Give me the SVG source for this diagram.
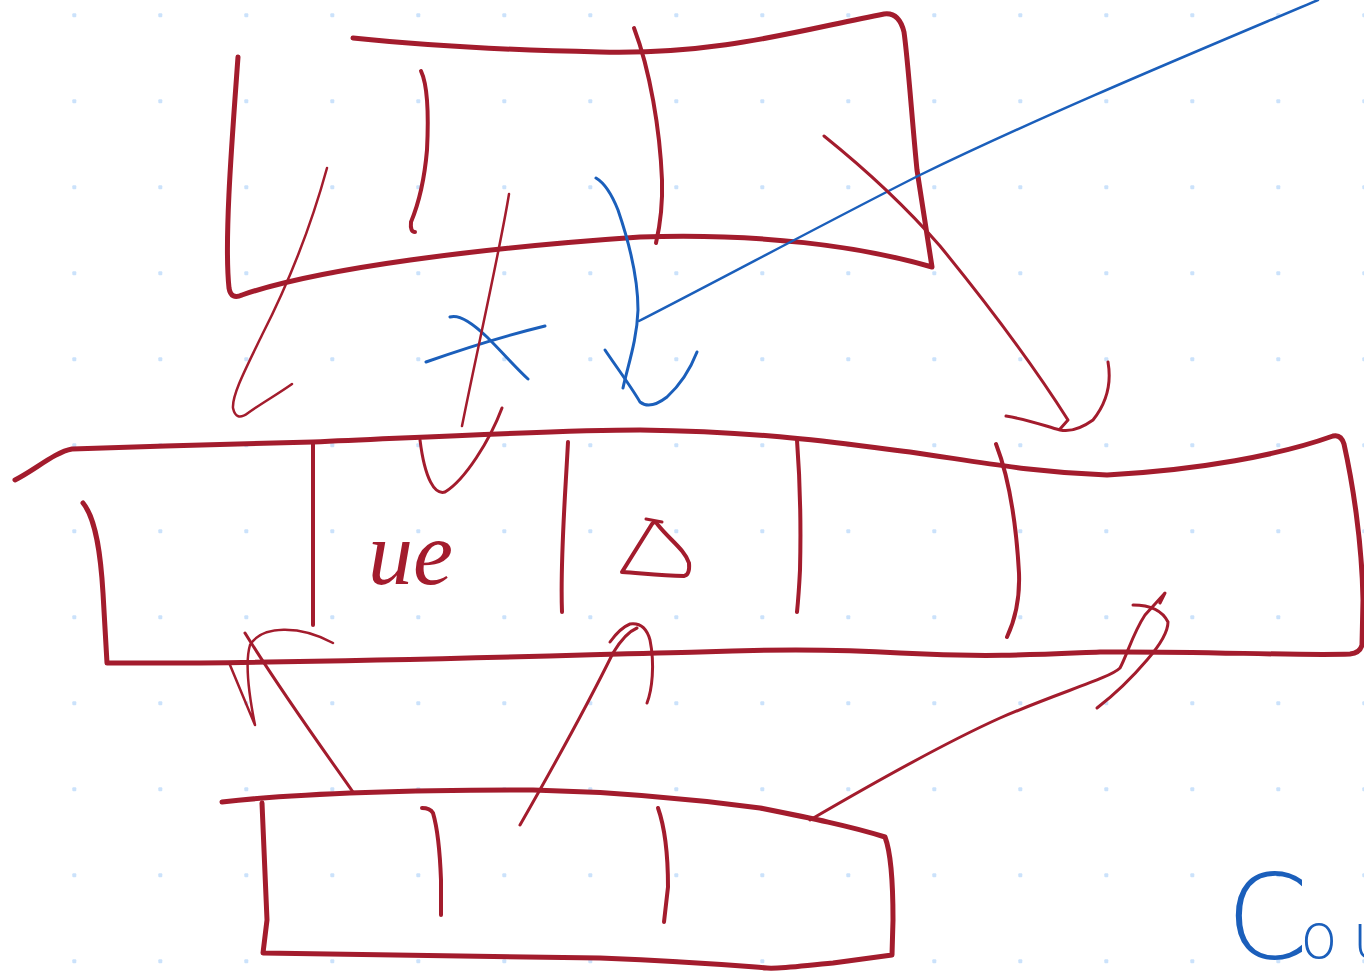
<svg xmlns="http://www.w3.org/2000/svg" width="1364" height="973" viewBox="0 0 1364 973">
<defs>
<pattern id="dots" x="31" y="-28" width="86" height="86" patternUnits="userSpaceOnUse">
<rect x="41.3" y="41.3" width="4" height="4" rx="1" fill="#cbe2fb"/>
</pattern>
<style>
.r{fill:none;stroke:#a31c2d;stroke-linecap:round;stroke-linejoin:round}
.b{fill:none;stroke:#1b5fbb;stroke-linecap:round;stroke-linejoin:round}
.w5{stroke-width:5}
.w4{stroke-width:4}
.w3{stroke-width:3}
.w25{stroke-width:2.5}
</style>
</defs>
<rect width="1364" height="973" fill="#ffffff"/>
<rect width="1364" height="973" fill="url(#dots)"/>

<g id="top-box">
<path class="r w5" d="M238,57 C232,140 224,240 229,288 Q231,300 242,295 C320,268 480,248 640,237 C760,233 860,246 932,267 L917,170 C912,120 908,60 904,32 Q899,12 884,14 C800,30 720,55 600,52 C500,50 420,45 353,38"/>
<path class="r w4" d="M421,71 Q430,90 427,150 C424,185 416,210 411,222 Q410,232 415,232"/>
<path class="r w4" d="M634,28 C650,70 660,130 662,180 C663,210 659,230 656,243"/>
</g>

<g id="middle-band">
<path class="r w5" d="M15,480 C35,470 55,452 72,449 C150,446 250,444 313,442 C450,436 560,430 640,430 C780,432 850,445 910,452 C980,462 1030,472 1107,475 C1200,470 1280,455 1333,436 Q1341,434 1344,444 C1352,480 1362,540 1363,600 L1362,645 Q1360,653 1350,654 C1300,656 1200,651 1100,652 C1050,654 990,658 900,653 C850,650 780,649 700,652 C600,654 450,660 200,663 L107,663 L103,593 C101,560 97,520 83,503"/>
<path class="r w4" d="M313,443 L313,625"/>
<path class="r w4" d="M568,442 C565,500 560,560 562,612"/>
<path class="r w4" d="M797,440 C800,480 801,530 800,570 C799,590 798,602 797,612"/>
<path class="r w4" d="M996,444 C1008,475 1016,520 1019,573 C1020,600 1015,620 1007,637"/>
<path class="r w4" d="M622,572 L652,524 Q655,520 658,525 C670,540 685,550 689,563 Q690,575 684,576 C660,576 640,573 622,572 Z"/>
<path class="r w3" d="M646,519 L662,522"/>
<text x="368" y="584" font-family="Liberation Serif, serif" font-style="italic" font-size="90" fill="#a31c2d">ue</text>
</g>

<g id="bottom-box">
<path class="r w5" d="M222,802 C300,793 420,790 533,790 C620,792 700,800 760,808 C810,818 850,826 885,837 C890,850 893,880 893,920 L892,955 L833,963 C800,966 780,969 767,968 C740,966 700,962 600,958 C500,956 400,956 263,953 L267,920 C265,870 263,830 262,803"/>
<path class="r w4" d="M422,808 Q430,808 433,813 C438,830 440,853 441,880 L441,915"/>
<path class="r w4" d="M658,808 C664,825 668,853 668,887 L664,922"/>
</g>

<g id="annotations">
<path class="b w3" d="M426,362 C460,350 500,337 545,326"/>
<path class="b w3" d="M450,317 Q462,313 487,337 C505,355 515,367 528,379"/>
<text x="1226" y="958" font-family="DejaVu Sans, sans-serif" font-weight="200" fill="#1b5fbb"><tspan font-size="118">C</tspan><tspan x="1300" font-size="62">o</tspan><tspan x="1352" font-size="62">u</tspan></text>
</g>

<g id="connectors">
<path class="b w3" d="M596,178 Q608,185 618,210 C630,245 638,280 638,310 C637,340 628,365 623,388"/>
<path class="b w3" d="M605,350 C615,365 630,385 640,402 Q650,410 667,397 C680,385 690,370 697,352"/>
<path class="b w25" d="M639,321 C700,290 850,210 920,175 C1050,112 1200,50 1318,0"/>
<path class="r w25" d="M509,194 C500,250 475,360 462,426"/>
<path class="r w3" d="M420,440 C425,480 435,495 445,492 C465,480 490,440 502,408"/>
<path class="r w25" d="M327,168 C310,230 285,290 262,335 C245,370 232,395 233,408 Q236,422 248,413 C262,403 278,394 292,384"/>
<path class="r w3" d="M824,136 C860,165 900,200 940,246 C980,295 1030,360 1068,420 L1060,429"/>
<path class="r w3" d="M1006,416 C1030,420 1045,426 1060,430 Q1075,433 1093,420 C1105,405 1112,385 1108,362"/>
<path class="r w3" d="M353,792 C320,745 280,690 245,633"/>
<path class="r w25" d="M230,665 L255,725 C250,700 244,665 250,645 C262,625 300,625 333,643"/>
<path class="r w3" d="M520,825 C540,790 580,720 613,653 Q625,633 637,628"/>
<path class="r w3" d="M610,642 Q620,628 630,624 Q645,622 650,640 C655,665 652,690 647,703"/>
<path class="r w3" d="M810,820 C870,785 940,745 1000,718 C1060,692 1110,678 1120,668 C1127,655 1133,633 1145,615 L1165,593 L1160,603"/>
<path class="r w3" d="M1133,605 C1150,605 1162,610 1168,622 C1168,632 1160,645 1147,660 C1130,680 1110,698 1097,708"/>
</g>
</svg>
